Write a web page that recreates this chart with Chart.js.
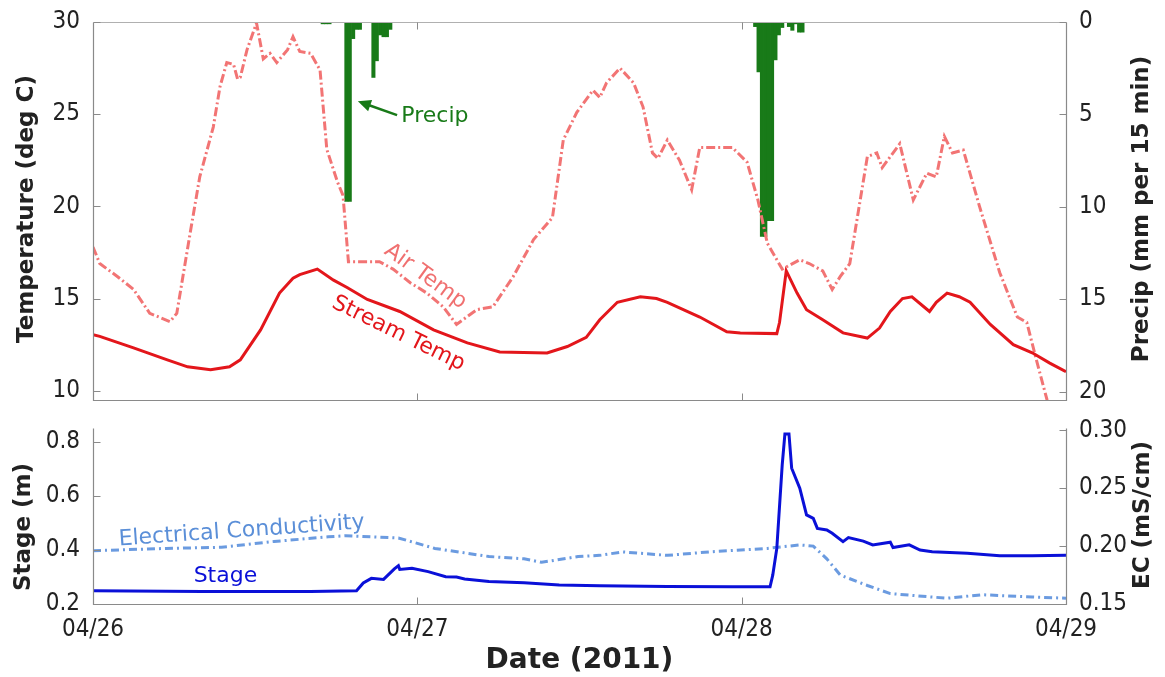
<!DOCTYPE html>
<html>
<head>
<meta charset="utf-8">
<script src="https://cdn.jsdelivr.net/npm/chart.js@4.4.1/dist/chart.umd.min.js"></script>
<style>
  html, body { margin: 0; padding: 0; background: #fff; }
  #wrap { position: relative; width: 1165px; height: 677px; }
  #topBox { position: absolute; left: 0; top: 0; }
  #botBox { position: absolute; left: 0; top: 415px; }
</style>
</head>
<body>
<div id="wrap">
  <div id="topBox"><canvas id="tempChart" width="1165" height="415"></canvas></div>
  <div id="botBox"><canvas id="stageChart" width="1165" height="262"></canvas></div>
</div>
<script>
// hours since 04/26 00:00
var dayTicks = [0, 24, 48, 72];
var dayLabels = ['04/26', '04/27', '04/28', '04/29'];
var tempTicks = [10, 15, 20, 25, 30];
var precipTicks = [0, 5, 10, 15, 20];
var stageTicks = [0.2, 0.4, 0.6, 0.8];
var ecTicks = [0.15, 0.20, 0.25, 0.30];

// stream temperature (deg C)
var streamHours = [0, 0.5, 3.0, 5.5, 7.0, 8.7, 10.1, 10.9, 12.4, 13.8, 14.8, 15.3, 16.6, 17.8, 18.8, 20.3,
  22.7, 25.2, 27.7, 30.1, 33.6, 35.1, 36.5, 37.5, 38.8, 40.5, 41.7, 42.5, 44.9, 46.9, 47.9, 50.6, 50.8,
  51.3, 52.1, 52.8, 54.0, 55.5, 57.3, 58.2, 59.0, 59.9, 60.6, 61.9, 62.4, 63.2, 64.1, 64.9, 66.4,
  68.1, 69.5, 70.8, 72];
var streamTemp = [13.04, 12.95, 12.33, 11.68, 11.3, 11.14, 11.3, 11.68, 13.3, 15.3, 16.1, 16.3, 16.6, 16.0, 15.6, 14.95,
  14.3, 13.3, 12.6, 12.1, 12.05, 12.4, 12.9, 13.85, 14.8, 15.1, 15.0, 14.8, 14.0, 13.2, 13.14, 13.1, 13.7,
  16.5, 15.3, 14.4, 13.85, 13.14, 12.86, 13.4, 14.3, 15.0, 15.1, 14.3, 14.8, 15.3, 15.1, 14.8, 13.6,
  12.5, 12.06, 11.5, 11.03];

// air temperature (deg C)
var airHours = [0, 0.5, 1.8, 3.0, 4.2, 5.7, 6.2, 7.2, 7.9, 8.9, 9.4, 9.9, 10.4, 10.7, 10.9, 11.4, 12.1,
  12.6, 13.1, 13.6, 14.4, 14.8, 15.3, 16.1, 16.8, 17.3, 18.1, 18.5, 18.9, 21.2, 22.2, 23.5, 24.7, 25.9,
  26.9, 28.4, 29.6, 31.1, 32.6, 34.0, 34.8, 35.8, 37.0, 37.5, 38.0, 39.0, 40.0, 40.7, 41.4, 41.8, 42.5,
  43.4, 44.3, 44.9, 47.3, 48.4, 49.2, 49.9, 51.0, 52.3, 53.0, 54.0, 54.7, 55.3, 56.0, 57.3, 58.0, 58.4,
  59.7, 60.7, 61.7, 62.4, 63.0, 63.6, 64.4, 65.6, 67.1, 68.4, 69.1, 69.8, 70.6, 71.5];
var airTemp = [17.8, 16.9, 16.2, 15.5, 14.2, 13.75, 14.2, 18.6, 21.6, 24.3, 26.5, 27.8, 27.7, 26.9, 27.0, 28.5, 29.95,
  28.0, 28.3, 27.8, 28.5, 29.2, 28.4, 28.3, 27.4, 23.1, 21.3, 20.6, 17.0, 17.0, 16.6, 15.85, 15.3, 14.56,
  13.6, 14.4, 14.56, 16.2, 18.2, 19.4, 23.6, 25.1, 26.3, 25.9, 26.7, 27.5, 26.7, 25.4, 22.9, 22.6, 23.6,
  22.5, 20.9, 23.2, 23.2, 22.4, 20.35, 18.0, 16.6, 17.1, 16.9, 16.5, 15.5, 16.2, 16.9, 22.7, 22.9, 22.1,
  23.4, 20.35, 21.8, 21.6, 23.8, 22.9, 23.06, 20.0, 16.4, 14.0, 13.7, 11.7, 9.5, 7.5];

// precipitation, mm per 15 min
var precipHours = [17.0, 17.25, 17.5, 18.75, 19.0, 19.25, 19.5, 19.75, 20.75, 21.0, 21.25, 21.5, 21.75, 22.0,
  49.0, 49.25, 49.5, 49.75, 50.0, 50.25, 50.5, 50.75, 51.0, 51.5, 51.75, 52.0, 52.25, 52.5];
var precipMm = [0.1, 0.1, 0.1, 9.7, 9.7, 0.9, 0.4, 0.4, 3.0, 2.1, 0.7, 0.8, 0.8, 0.4,
  0.25, 2.7, 11.6, 11.6, 10.75, 10.75, 2.05, 0.7, 0.3, 0.25, 0.45, 0.1, 0.55, 0.55];

// stage (m)
var stageHours = [0, 8.1, 16.1, 19.5, 20.0, 20.6, 21.5, 22.3, 22.6, 22.7, 23.6, 24.8, 26.1, 26.9, 27.5, 29.3,
  31.9, 34.5, 37.5, 42.5, 47.3, 50.1, 50.3, 50.6, 51.0, 51.2, 51.5, 51.7, 52.3, 52.8, 53.3, 53.6, 54.3,
  54.7, 55.5, 55.9, 57.0, 57.7, 59.0, 59.2, 60.4, 61.2, 62.1, 64.7, 67.1, 69.5, 72];
var stageM = [0.249, 0.246, 0.246, 0.249, 0.278, 0.295, 0.291, 0.33, 0.342, 0.328, 0.332, 0.32, 0.301, 0.30, 0.293, 0.283,
  0.279, 0.27, 0.268, 0.265, 0.264, 0.264, 0.307, 0.406, 0.715, 0.83, 0.83, 0.703, 0.629, 0.53, 0.517, 0.48, 0.474,
  0.462, 0.431, 0.446, 0.433, 0.419, 0.429, 0.409, 0.419, 0.40, 0.394, 0.388, 0.379, 0.379, 0.381];

// electrical conductivity (mS/cm)
var ecHours = [0, 5.4, 9.5, 13.4, 17.4, 18.7, 22.6, 25.3, 29.3, 31.9, 33.2, 35.9, 37.5, 39.2, 42.5, 45.6,
  49.9, 52.3, 53.3, 54.3, 55.3, 57.3, 59.0, 62.1, 63.2, 65.8, 69.5, 72];
var ecVal = [0.196, 0.198, 0.199, 0.204, 0.208, 0.209, 0.207, 0.198, 0.191, 0.189, 0.186, 0.191, 0.192, 0.195, 0.192, 0.195,
  0.198, 0.201, 0.200, 0.189, 0.175, 0.166, 0.159, 0.156, 0.155, 0.158, 0.156, 0.155];

function pts(xs, ys) {
  return xs.map(function (x, i) { return {x: x, y: ys[i]}; });
}

var tickFamily = "'DejaVu Sans Condensed', 'DejaVu Sans', sans-serif";
var textFamily = "'DejaVu Sans', sans-serif";
var ink = '#222222';
var axisGray = '#8a8a8a';

function useTicks(values) {
  return function (scale) { scale.ticks = values.map(function (v) { return {value: v}; }); };
}
// fixed box sizes, no extra room for overhanging labels
function setWidth(w) {
  return function (scale) { scale.width = w; scale.paddingTop = 0; scale.paddingBottom = 0; };
}
function setHeight(h) {
  return function (scale) { scale.height = h; scale.paddingLeft = 0; scale.paddingRight = 0; };
}

function yScale(pos, min, max, ticks, fmt, width, reverse) {
  return {
    type: 'linear', position: pos, min: min, max: max, reverse: !!reverse,
    afterBuildTicks: useTicks(ticks),
    afterFit: setWidth(width),
    grid: {display: false}, border: {display: false},
    ticks: {
      autoSkip: false, padding: 5, color: ink,
      font: {family: tickFamily, size: 24, lineHeight: 1},
      callback: fmt
    }
  };
}

// box lines, inward tick marks
var axesFrame = {
  id: 'axesFrame',
  afterDatasetsDraw: function (chart, args, o) {
    var a = chart.chartArea, ctx = chart.ctx;
    var L = Math.round(a.left) + 0.5, R = Math.round(a.right) + 0.5;
    var T = Math.round(a.top) + 0.5, B = Math.round(a.bottom) + 0.5;
    ctx.save();
    ctx.lineWidth = 1.2;
    ctx.strokeStyle = axisGray;
    ctx.beginPath();
    ctx.moveTo(L, T); ctx.lineTo(L, B); ctx.lineTo(R, B); ctx.lineTo(R, T);
    ctx.stroke();
    if (o.boxTop) {
      ctx.strokeStyle = '#b0b0b0';
      ctx.beginPath(); ctx.moveTo(L, T); ctx.lineTo(R, T); ctx.stroke();
    }
    ctx.strokeStyle = axisGray;
    ctx.lineWidth = 1;
    var tl = 7;
    ctx.beginPath();
    chart.scales[o.left].ticks.forEach(function (t) {
      var y = Math.round(chart.scales[o.left].getPixelForValue(t.value)) + 0.5;
      ctx.moveTo(L, y); ctx.lineTo(L + tl, y);
    });
    chart.scales[o.right].ticks.forEach(function (t) {
      var y = Math.round(chart.scales[o.right].getPixelForValue(t.value)) + 0.5;
      ctx.moveTo(R, y); ctx.lineTo(R - tl, y);
    });
    dayTicks.slice(1, -1).forEach(function (d) {
      var x = Math.round(chart.scales.x.getPixelForValue(d)) + 0.5;
      ctx.moveTo(x, B); ctx.lineTo(x, B - tl);
      if (o.boxTop) { ctx.moveTo(x, T); ctx.lineTo(x, T + tl); }
    });
    ctx.stroke();
    ctx.restore();
  }
};

// axis titles and in-plot labels
var notes = {
  id: 'notes',
  afterDraw: function (chart, args, o) {
    var ctx = chart.ctx;
    var sx = chart.scales.x, sy = chart.scales[o.left];
    o.titles.forEach(function (t) {
      ctx.save();
      ctx.font = t.font;
      ctx.fillStyle = ink;
      ctx.textAlign = 'center';
      ctx.textBaseline = 'middle';
      ctx.translate(t.px, t.py);
      ctx.rotate(-Math.PI / 2);
      ctx.fillText(t.text, 0, 0);
      ctx.restore();
    });
    o.labels.forEach(function (t) {
      ctx.save();
      ctx.font = t.font || ('22px ' + textFamily);
      ctx.fillStyle = t.color;
      ctx.textAlign = 'center';
      ctx.textBaseline = 'middle';
      ctx.translate(sx.getPixelForValue(t.h), sy.getPixelForValue(t.v));
      ctx.rotate((t.angle || 0) * Math.PI / 180);
      ctx.fillText(t.text, 0, 0);
      ctx.restore();
    });
    if (o.arrow) {
      var w = o.arrow;
      var x1 = sx.getPixelForValue(w.from[0]), y1 = sy.getPixelForValue(w.from[1]);
      var x2 = sx.getPixelForValue(w.to[0]), y2 = sy.getPixelForValue(w.to[1]);
      var ang = Math.atan2(y2 - y1, x2 - x1);
      ctx.save();
      ctx.strokeStyle = w.color; ctx.fillStyle = w.color; ctx.lineWidth = 2.5;
      ctx.beginPath();
      ctx.moveTo(x1, y1);
      ctx.lineTo(x2 - 9 * Math.cos(ang), y2 - 9 * Math.sin(ang));
      ctx.stroke();
      ctx.beginPath();
      ctx.moveTo(x2, y2);
      ctx.lineTo(x2 - 13 * Math.cos(ang) + 6 * Math.sin(ang), y2 - 13 * Math.sin(ang) - 6 * Math.cos(ang));
      ctx.lineTo(x2 - 13 * Math.cos(ang) - 6 * Math.sin(ang), y2 - 13 * Math.sin(ang) + 6 * Math.cos(ang));
      ctx.closePath();
      ctx.fill();
      ctx.restore();
    }
    if (o.xTitle) {
      ctx.save();
      ctx.font = o.xTitle.font;
      ctx.fillStyle = ink;
      ctx.textAlign = 'center';
      ctx.textBaseline = 'alphabetic';
      ctx.fillText(o.xTitle.text, (chart.chartArea.left + chart.chartArea.right) / 2, o.xTitle.py);
      ctx.restore();
    }
  }
};

var titleFont = 'bold 23px ' + textFamily;

var tempChart = new Chart(document.getElementById('tempChart'), {
  type: 'line',
  data: {
    datasets: [
      {
        label: 'Stream Temp', data: pts(streamHours, streamTemp), yAxisID: 'yT',
        borderColor: '#e3161b', borderWidth: 3, pointRadius: 0, tension: 0, order: 1
      },
      {
        label: 'Air Temp', data: pts(airHours, airTemp), yAxisID: 'yT',
        borderColor: '#f27474', borderWidth: 3, borderDash: [9, 3, 2, 3], pointRadius: 0, tension: 0, order: 2
      },
      {
        type: 'bar', label: 'Precip', data: pts(precipHours, precipMm), yAxisID: 'yP',
        backgroundColor: '#187a18', borderWidth: 0, barPercentage: 1, categoryPercentage: 1, order: 3
      }
    ]
  },
  options: {
    responsive: false, animation: false, events: [],
    layout: {padding: {top: 22, left: 0, right: 0, bottom: 0}},
    plugins: {
      legend: {display: false}, tooltip: {enabled: false},
      axesFrame: {left: 'yT', right: 'yP', boxTop: true},
      notes: {
        left: 'yT',
        titles: [
          {text: 'Temperature (deg C)', font: titleFont, px: 27, py: 209},
          {text: 'Precip (mm per 15 min)', font: titleFont, px: 1142, py: 209}
        ],
        labels: [
          {text: 'Precip', h: 25.3, v: 24.9, color: '#187a18'},
          {text: 'Air Temp', h: 24.6, v: 16.2, angle: 36, color: '#f07070'},
          {text: 'Stream Temp', h: 22.6, v: 13.1, angle: 26, color: '#e3161b'}
        ],
        arrow: {from: [22.5, 24.95], to: [19.6, 25.7], color: '#187a18'}
      }
    },
    scales: {
      x: {
        type: 'linear', min: 0, max: 72, offset: false,
        afterBuildTicks: useTicks(dayTicks), afterFit: setHeight(15),
        grid: {display: false, offset: false}, border: {display: false}, ticks: {display: false}
      },
      yT: yScale('left', 9.5, 30, tempTicks, function (v) { return String(v); }, 93),
      yP: yScale('right', 0, 20.45, precipTicks, function (v) { return String(v); }, 99, true)
    }
  },
  plugins: [axesFrame, notes]
});

var stageChart = new Chart(document.getElementById('stageChart'), {
  type: 'line',
  data: {
    datasets: [
      {
        label: 'Stage', data: pts(stageHours, stageM), yAxisID: 'yS',
        borderColor: '#0a10d8', borderWidth: 3, pointRadius: 0, tension: 0, order: 1
      },
      {
        label: 'Electrical Conductivity', data: pts(ecHours, ecVal), yAxisID: 'yE',
        borderColor: '#6b9be0', borderWidth: 3, borderDash: [8, 4, 2, 4], pointRadius: 0, tension: 0, order: 2
      }
    ]
  },
  options: {
    responsive: false, animation: false, events: [],
    layout: {padding: {top: 13, left: 0, right: 0, bottom: 0}},
    plugins: {
      legend: {display: false}, tooltip: {enabled: false},
      axesFrame: {left: 'yS', right: 'yE', boxTop: false},
      notes: {
        left: 'yS',
        titles: [
          {text: 'Stage (m)', font: titleFont, px: 24, py: 112},
          {text: 'EC (mS/cm)', font: titleFont, px: 1143, py: 100}
        ],
        labels: [
          {text: 'Electrical Conductivity', h: 11.0, v: 0.470, angle: -4, color: '#5b8fd8'},
          {text: 'Stage', h: 9.8, v: 0.304, color: '#0a10d8'}
        ],
        xTitle: {text: 'Date (2011)', font: 'bold 28px ' + textFamily, py: 253}
      }
    },
    scales: {
      x: {
        type: 'linear', min: 0, max: 72, offset: false,
        afterBuildTicks: useTicks(dayTicks), afterFit: setHeight(73),
        grid: {display: false}, border: {display: false},
        ticks: {
          autoSkip: false, maxRotation: 0, padding: 6, color: ink,
          font: {family: tickFamily, size: 24, lineHeight: 1},
          callback: function (v) { return dayLabels[dayTicks.indexOf(v)]; }
        }
      },
      yS: yScale('left', 0.2, 0.852, stageTicks, function (v) { return v.toFixed(1); }, 93),
      yE: yScale('right', 0.15, 0.302, ecTicks, function (v) { return v.toFixed(2); }, 99)
    }
  },
  plugins: [axesFrame, notes]
});
</script>
</body>
</html>
